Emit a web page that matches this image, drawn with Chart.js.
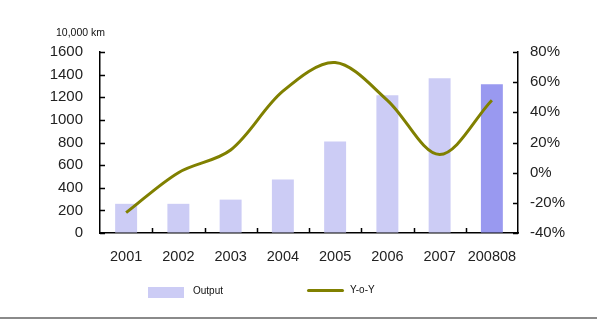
<!DOCTYPE html>
<html>
<head>
<meta charset="utf-8">
<script src="https://cdn.jsdelivr.net/npm/chart.js@4/dist/chart.umd.min.js"></script>
<style>
  html, body { margin: 0; padding: 0; background: #fff; }
  #wrap { position: relative; width: 599px; height: 333px; overflow: hidden; font-family: "Liberation Sans", Arial, sans-serif; }
  canvas { position: absolute; left: 0; top: 0; }
  .txt { position: absolute; color: #111; white-space: nowrap; line-height: 1; }
</style>
</head>
<body>
<div id="wrap">
  <canvas id="c" width="599" height="333"></canvas>
  <div class="txt" style="left:56px; top:27px; font-size:10.5px;">10,000 km</div>
  <div style="position:absolute; left:148px; top:287px; width:36px; height:11px; background:#ccccf5;"></div>
  <div class="txt" style="left:193px; top:286px; font-size:10px;">Output</div>
  <div style="position:absolute; left:307px; top:288.5px; width:37px; height:3px; background:#808000; border-radius:1.5px;"></div>
  <div class="txt" style="left:350px; top:285px; font-size:10px;">Y-o-Y</div>
  <div style="position:absolute; left:0; top:317px; width:597px; height:2px; background:#8a8a8a;"></div>
</div>
<script>
const categories = ['2001', '2002', '2003', '2004', '2005', '2006', '2007', '200808'];
const outputValues = [258, 258, 295, 472, 808, 1218, 1368, 1315];
const yoyValues = [-26.5, 0, 15, 54, 73, 48, 12, 48];
const leftTicks = [0, 200, 400, 600, 800, 1000, 1200, 1400, 1600];
const rightTicks = [-40, -20, 0, 20, 40, 60, 80];

const barColors = ['#ccccf5', '#ccccf5', '#ccccf5', '#ccccf5', '#ccccf5', '#ccccf5', '#ccccf5', '#9999f0'];

const innerTicks = {
  id: 'innerTicks',
  afterDraw(chart) {
    const ctx = chart.ctx;
    const x = chart.scales.x, y = chart.scales.y, y1 = chart.scales.y1;
    const len = 5;
    ctx.save();
    ctx.strokeStyle = '#000';
    ctx.lineWidth = 1.5;
    ctx.beginPath();
    y.ticks.forEach(t => {
      const py = Math.round(y.getPixelForValue(t.value)) + 0.5;
      ctx.moveTo(y.right, py); ctx.lineTo(y.right + len, py);
    });
    y1.ticks.forEach(t => {
      const py = Math.round(y1.getPixelForValue(t.value)) + 0.5;
      ctx.moveTo(y1.left, py); ctx.lineTo(y1.left - len, py);
    });
    for (let i = 1; i < categories.length; i++) {
      const px = Math.round((x.getPixelForValue(i) + x.getPixelForValue(i - 1)) / 2) + 0.5;
      ctx.moveTo(px, x.top); ctx.lineTo(px, x.top - len);
    }
    ctx.stroke();
    ctx.restore();
  }
};

const tickFont = { family: '"Liberation Sans", Arial, sans-serif', size: 15 };

new Chart(document.getElementById('c'), {
  data: {
    labels: categories,
    datasets: [
      {
        type: 'line',
        label: 'Y-o-Y',
        data: yoyValues,
        yAxisID: 'y1',
        borderColor: '#808000',
        borderWidth: 3,
        tension: 0.33,
        pointRadius: 0,
        fill: false,
        order: 0
      },
      {
        type: 'bar',
        label: 'Output',
        data: outputValues,
        yAxisID: 'y',
        backgroundColor: barColors,
        barPercentage: 0.42,
        categoryPercentage: 1.0,
        order: 1
      }
    ]
  },
  options: {
    responsive: false,
    animation: false,
    events: [],
    layout: { padding: { top: 52, left: 0, right: 0, bottom: 0 } },
    plugins: { legend: { display: false }, tooltip: { enabled: false }, title: { display: false } },
    scales: {
      x: {
        grid: { display: true, drawOnChartArea: false, drawTicks: false, offset: true, color: 'rgba(0,0,0,0)' },
        border: { display: true, color: '#000', width: 1.5 },
        ticks: { font: { family: '"Liberation Sans", Arial, sans-serif', size: 14.5 }, color: '#222', padding: 15, maxRotation: 0, autoSkip: false },
        afterFit(s) { s.height = 100; }
      },
      y: {
        position: 'left',
        min: 0, max: 1600,
        afterBuildTicks(s) { s.ticks = leftTicks.map(v => ({ value: v })); },
        grid: { display: true, drawOnChartArea: false, drawTicks: false, color: 'rgba(0,0,0,0)' },
        border: { display: true, color: '#000', width: 1.5 },
        ticks: { font: tickFont, color: '#222', padding: 17, callback: v => String(v) },
        afterFit(s) { s.width = 100; }
      },
      y1: {
        position: 'right',
        min: -40, max: 80,
        afterBuildTicks(s) { s.ticks = rightTicks.map(v => ({ value: v })); },
        grid: { display: true, drawOnChartArea: false, drawTicks: false, color: 'rgba(0,0,0,0)' },
        border: { display: true, color: '#000', width: 1.5 },
        ticks: { font: tickFont, color: '#222', padding: 12, callback: v => v + '%' },
        afterFit(s) { s.width = 81; }
      }
    }
  },
  plugins: [innerTicks]
});
</script>
</body>
</html>
